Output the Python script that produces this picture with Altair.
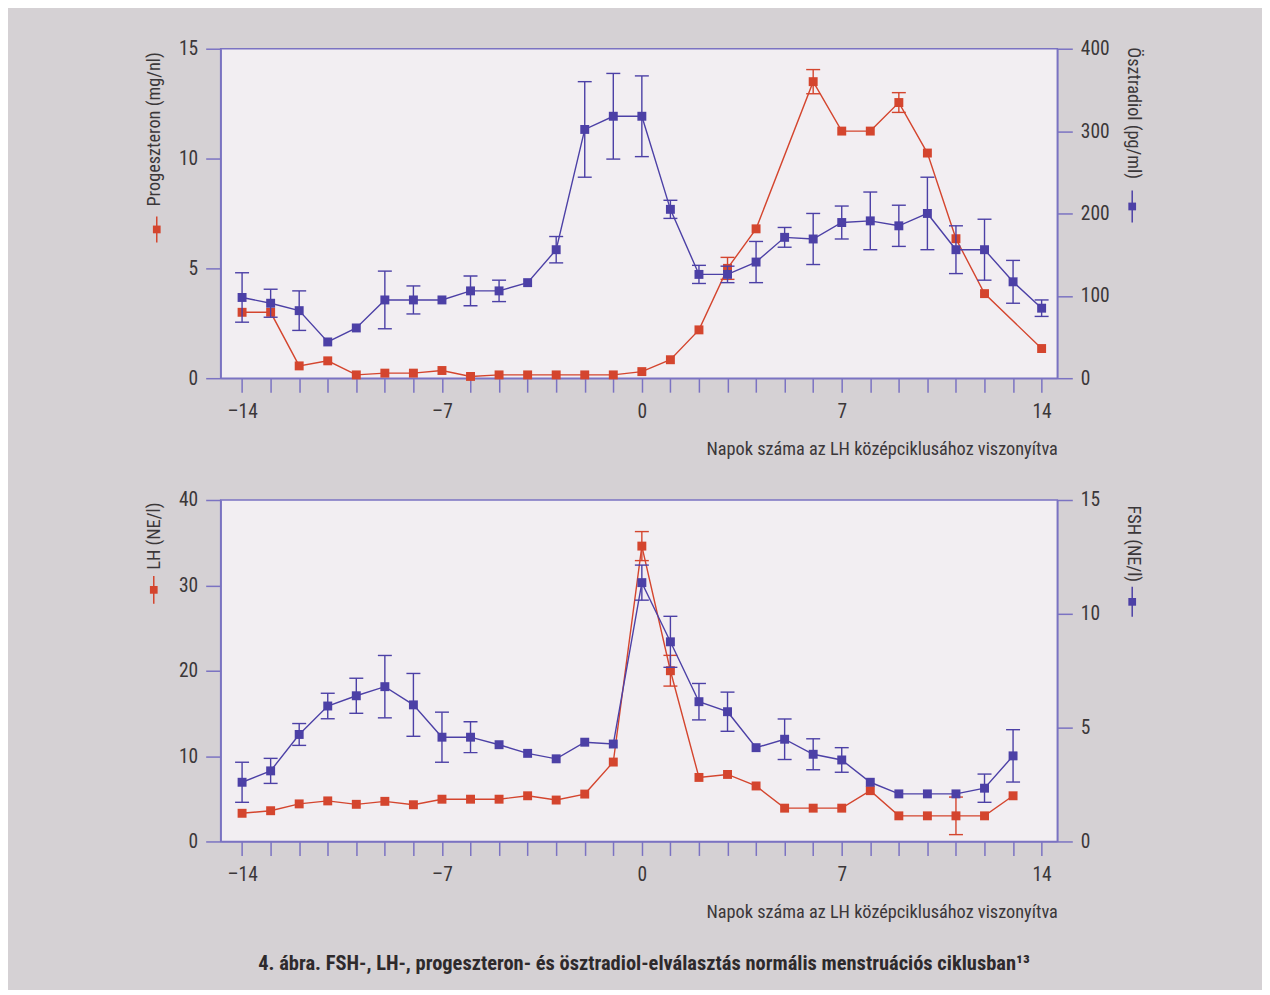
import altair as alt
import pandas as pd

FONT = "Liberation Sans Narrow, Roboto Condensed, DejaVu Sans Condensed, Roboto, sans-serif"
RED = "#d4452e"
BLUE = "#4c40a6"
AXIS = "#7b73c2"
TXT = "#3b3739"

days = list(range(-14, 15))

prog = [3.0, 3.0, 0.56, 0.79, 0.15, 0.23, 0.23, 0.35, 0.08, 0.15, 0.15, 0.15, 0.15, 0.15, 0.3,
        0.84, 2.2, 5.0, 6.8, None, 13.5, 11.25, 11.25, 12.55, 10.25, 6.35, 3.85, None, 1.35]
prog_err = [None] * 17 + [0.5, None, None, 0.55, None, None, 0.45, None, None, None, None, None]

estr = [98, 91, 82, 44, 61, 95, 95, 95, 106, 106, 116, 156, 302, 318, 318,
        205, 126, 126, 141, 171, 169, 189, 191, 185, 200, 156, 156, 117, 85]
estr_err = [30, 17, 24, None, None, 35, 17, None, 18, 13, None, 16, 58, 52, 49,
            11, 11, 10, 25, 12, 31, 20, 35, 25, 44, 29, 37, 26, 10]

lh = [3.3, 3.6, 4.4, 4.75, 4.35, 4.7, 4.3, 4.95, 4.95, 4.95, 5.35, 4.85, 5.55, 9.3, 34.6,
      20.0, 7.5, 7.85, 6.5, 3.9, 3.9, 3.9, 5.95, 3.0, 3.0, 3.0, 3.0, 5.35, None]
lh_err = [None] * 14 + [1.7, 1.8] + [None] * 9 + [2.2, None, None, None]

fsh = [2.6, 3.1, 4.7, 5.95, 6.4, 6.8, 6.0, 4.58, 4.58, 4.25, 3.87, 3.63, 4.36, 4.28, 11.37,
       8.77, 6.14, 5.7, 4.12, 4.49, 3.83, 3.58, 2.6, 2.09, 2.09, 2.09, 2.34, 3.76, None]
fsh_err = [0.88, 0.55, 0.48, 0.56, 0.77, 1.37, 1.38, 1.1, 0.68, None, None, None, None, None, 0.77,
           1.12, 0.8, 0.86, None, 0.89, 0.68, 0.54, None, None, None, None, 0.62, 1.15, None]

x_ticks = list(range(-14, 15))
x_title = "Napok száma az LH középciklusához viszonyítva"
caption = "4. ábra. FSH-, LH-, progeszteron- és ösztradiol-elválasztás normális menstruációs ciklusban¹³"

W = 838
H_TOP = 330
H_BOT = 342


def frame(vals, errs):
    df = pd.DataFrame({"day": days, "v": vals, "err": errs}).dropna(subset=["v"])
    df["lo"] = df["v"] - df["err"]
    df["hi"] = df["v"] + df["err"]
    return df


def xenc():
    return alt.X(
        "day:Q",
        scale=alt.Scale(domain=[-14.75, 14.55], nice=False, zero=False),
        axis=alt.Axis(
            values=x_ticks,
            labelExpr="datum.value % 7 == 0 ? (datum.value < 0 ? '–' + abs(datum.value) : '' + datum.value) : ''",
            tickSize=14, labelPadding=10, labelOverlap=False, labelFlush=False,
            title=x_title, titleX=W, titleY=71, titleAlign="right", titleBaseline="middle",
        ),
    )


def series(df, color, dom, axis):
    ysc = alt.Scale(domain=dom, nice=False, zero=False)
    x = xenc()
    base = alt.Chart(df)
    err = alt.Chart(df.dropna(subset=["err"]))
    line = base.mark_line(color=color, strokeWidth=1.4).encode(
        x=x, y=alt.Y("v:Q", scale=ysc, axis=axis))
    rules = err.mark_rule(color=color, strokeWidth=1.4).encode(
        x=x, y=alt.Y("lo:Q", scale=ysc, axis=axis), y2="hi:Q")
    tlo = err.mark_tick(orient="horizontal", size=14, thickness=1.4, color=color, opacity=1).encode(
        x=x, y=alt.Y("lo:Q", scale=ysc, axis=axis))
    thi = err.mark_tick(orient="horizontal", size=14, thickness=1.4, color=color, opacity=1).encode(
        x=x, y=alt.Y("hi:Q", scale=ysc, axis=axis))
    pts = base.mark_square(size=80, color=color, opacity=1).encode(
        x=x, y=alt.Y("v:Q", scale=ysc, axis=axis))
    return alt.layer(line, rules, tlo, thi, pts)


def left_axis(title, values, ty):
    return alt.Axis(values=values, tickSize=15, labelPadding=8, orient="left",
                    title=title, titleAngle=270, titleAlign="right", titleBaseline="middle",
                    titleX=-66, titleY=ty)


def right_axis(title, values, ty):
    return alt.Axis(values=values, tickSize=15, labelPadding=8, orient="right",
                    title=title, titleAngle=90, titleAlign="left", titleBaseline="middle",
                    titleX=75, titleY=ty)


one = pd.DataFrame({"a": [0]})


def symbol(color, x, y, half):
    r = alt.Chart(one).mark_rule(color=color, strokeWidth=1.5).encode(
        x=alt.value(x), y=alt.value(y - half), y2=alt.value(y + half))
    p = alt.Chart(one).mark_square(color=color, size=60, opacity=1).encode(
        x=alt.value(x), y=alt.value(y))
    return [r, p]


bound_tl = alt.Chart(one).mark_rule(opacity=0).encode(
    x=alt.value(-212), x2=alt.value(-211), y=alt.value(-39), y2=alt.value(-38))
bound_br = alt.Chart(one).mark_rule(opacity=0).encode(
    x=alt.value(1041), x2=alt.value(1042), y=alt.value(488), y2=alt.value(489))

cap = alt.Chart(pd.DataFrame({"t": [caption]})).mark_text(
    font=FONT, fontSize=20.5, fontWeight="bold", color="#2e2a2c", align="center", baseline="middle"
).encode(text="t:N", x=alt.value(424), y=alt.value(465))

red_top = series(frame(prog, prog_err), RED, [0, 15],
                 left_axis("Progeszteron (mg/nl)", [0, 5, 10, 15], 3))
blue_top = series(frame(estr, estr_err), BLUE, [0, 400],
                  right_axis("Ösztradiol (pg/ml)", [0, 100, 200, 300, 400], -2))

top = alt.layer(
    bound_tl, red_top, blue_top,
    *symbol(RED, -64, 181, 13), *symbol(BLUE, 913, 158, 16),
).resolve_scale(y="independent").properties(width=W, height=H_TOP)

red_bot = series(frame(lh, lh_err), RED, [0, 40],
                 left_axis("LH (NE/l)", [0, 10, 20, 30, 40], 2))
blue_bot = series(frame(fsh, fsh_err), BLUE, [0, 15],
                  right_axis("FSH (NE/l)", [0, 5, 10, 15], 5))

bottom = alt.layer(
    bound_br, red_bot, blue_bot,
    *symbol(RED, -67, 90, 14), *symbol(BLUE, 913, 102, 15), cap,
).resolve_scale(y="independent").properties(width=W, height=H_BOT)

chart = alt.vconcat(top, bottom, spacing=122, bounds="flush").properties(
    padding=0, background="#d5d1d4"
).configure_view(
    stroke=AXIS, strokeWidth=1.5, fill="#f2eef2"
).configure_axis(
    domainColor=AXIS, tickColor=AXIS, domainWidth=1.5, tickWidth=1.5,
    labelColor=TXT, titleColor=TXT, labelFont=FONT, titleFont=FONT,
    labelFontSize=19.5, titleFontSize=18.3, titleFontWeight="normal", grid=False,
)

chart.save("out.html", embed_options={"renderer": "svg", "actions": False})
